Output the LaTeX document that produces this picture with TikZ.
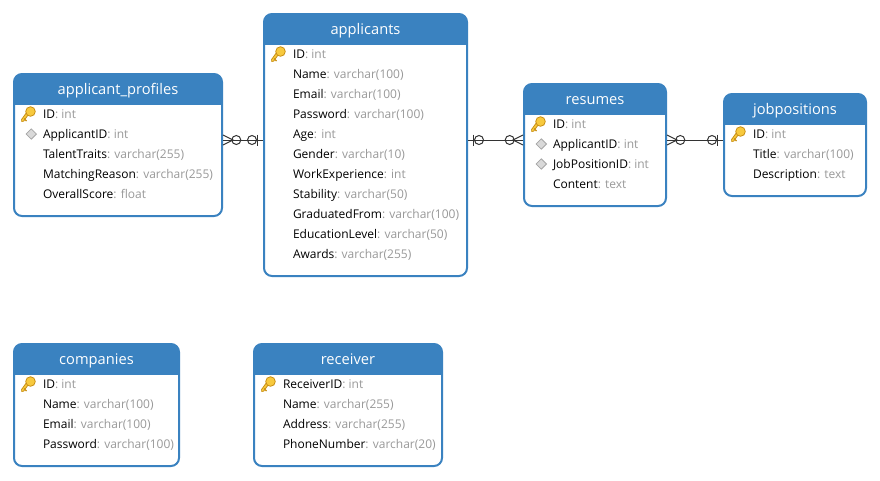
\documentclass[tikz,border=0pt]{standalone}
\usepackage{fontspec}
\setmainfont{Open Sans}
\usepackage{xcolor}
\usetikzlibrary{shapes,positioning,fit,calc}
\definecolor{headblue}{HTML}{3A82C0}
\definecolor{typegray}{HTML}{999999}
\definecolor{keygold}{HTML}{F7C93E}
\definecolor{keyedge}{HTML}{C98F14}
\newcommand{\fld}[2]{#1\textcolor{typegray}{: #2}}

\begin{document}
\begin{tikzpicture}[
    x=0.75pt, y=-0.75pt,
    tablebox/.style={rectangle, draw=headblue, line width=1.5pt, fill=white, rounded corners=6pt, inner sep=0pt,
        path picture={\fill[headblue, sharp corners] (path picture bounding box.north west) rectangle ($(path picture bounding box.north east)+(0,31)$);}},
    titletext/.style={text=white, text height=9pt, text depth=3pt, font=\fontsize{11}{13}\selectfont},
    rowtext/.style={anchor=north west, inner sep=0pt, outer sep=0pt, minimum height=15pt, text height=8pt, text depth=2pt, font=\fontsize{9}{10}\selectfont},
    nextrow/.style={below=0pt of #1.south west, anchor=north west},
    fkmark/.style={diamond, draw=black!35, fill=black!15, line width=0.6pt, inner sep=0pt, minimum size=8pt},
    link/.style={draw=black!80, line width=0.75pt},
    crowmark/.pic={
        \draw[link] (0,-5) -- (10,0) -- (0,5);
        \draw[link] (13.3,0) circle (4.5);
    },
    onemark/.pic={
        \draw[link] (5.5,-5.5) -- (5.5,5.5);
        \draw[link] (11,0) circle (4.5);
    },
    pkmark/.pic={
        \draw[keyedge, line width=2.6pt, line cap=round] (-3,2) -- (-8,9);
        \draw[keygold, line width=1.2pt, line cap=round] (-3,2) -- (-8,9);
        \draw[keyedge, line width=1pt] (-6.5,7) -- (-4,9.5);
        \filldraw[fill=keygold, draw=keyedge, line width=0.6pt] (0,0) circle (4.8);
    }
]
\useasboundingbox (0,0) rectangle (880,480);

% applicant_profiles
\node[tablebox, fit={(14,74) (222,216)}] (profiles) {};
\node[titletext] (profilestitle) at ($(profiles.north)+(0,17)$) {applicant\_profiles};
\node[rowtext] (pf1) at (43,104) {\fld{ID}{int}};
\node[rowtext, nextrow=pf1] (pf2) {\fld{ApplicantID}{int}};
\node[rowtext, nextrow=pf2] (pf3) {\fld{TalentTraits}{varchar(255)}};
\node[rowtext, nextrow=pf3] (pf4) {\fld{MatchingReason}{varchar(255)}};
\node[rowtext, nextrow=pf4] (pf5) {\fld{OverallScore}{float}};
\pic at ($(pf1.west)+(-12.5,-2.5)$) {pkmark};
\node[fkmark, left=4.5pt of pf2] (pf2fk) {};

% applicants
\node[tablebox, fit={(264,14) (467,276)}] (applicants) {};
\node[titletext] (applicantstitle) at ($(applicants.north)+(0,17)$) {applicants};
\node[rowtext] (ap1) at (293,44) {\fld{ID}{int}};
\node[rowtext, nextrow=ap1] (ap2) {\fld{Name}{varchar(100)}};
\node[rowtext, nextrow=ap2] (ap3) {\fld{Email}{varchar(100)}};
\node[rowtext, nextrow=ap3] (ap4) {\fld{Password}{varchar(100)}};
\node[rowtext, nextrow=ap4] (ap5) {\fld{Age}{int}};
\node[rowtext, nextrow=ap5] (ap6) {\fld{Gender}{varchar(10)}};
\node[rowtext, nextrow=ap6] (ap7) {\fld{WorkExperience}{int}};
\node[rowtext, nextrow=ap7] (ap8) {\fld{Stability}{varchar(50)}};
\node[rowtext, nextrow=ap8] (ap9) {\fld{GraduatedFrom}{varchar(100)}};
\node[rowtext, nextrow=ap9] (ap10) {\fld{EducationLevel}{varchar(50)}};
\node[rowtext, nextrow=ap10] (ap11) {\fld{Awards}{varchar(255)}};
\pic at ($(ap1.west)+(-12.5,-2.5)$) {pkmark};

% resumes
\node[tablebox, fit={(524,84) (666,206)}] (resumes) {};
\node[titletext] (resumestitle) at ($(resumes.north)+(0,17)$) {resumes};
\node[rowtext] (rs1) at (553,114) {\fld{ID}{int}};
\node[rowtext, nextrow=rs1] (rs2) {\fld{ApplicantID}{int}};
\node[rowtext, nextrow=rs2] (rs3) {\fld{JobPositionID}{int}};
\node[rowtext, nextrow=rs3] (rs4) {\fld{Content}{text}};
\pic at ($(rs1.west)+(-12.5,-2.5)$) {pkmark};
\node[fkmark, left=4.5pt of rs2] (rs2fk) {};
\node[fkmark, left=4.5pt of rs3] (rs3fk) {};

% jobpositions
\node[tablebox, fit={(724,94) (866,196)}] (jobpositions) {};
\node[titletext] (jobpositionstitle) at ($(jobpositions.north)+(0,17)$) {jobpositions};
\node[rowtext] (jb1) at (753,124) {\fld{ID}{int}};
\node[rowtext, nextrow=jb1] (jb2) {\fld{Title}{varchar(100)}};
\node[rowtext, nextrow=jb2] (jb3) {\fld{Description}{text}};
\pic at ($(jb1.west)+(-12.5,-2.5)$) {pkmark};

% companies
\node[tablebox, fit={(14,344) (179,466)}] (companies) {};
\node[titletext] (companiestitle) at ($(companies.north)+(0,17)$) {companies};
\node[rowtext] (cp1) at (43,374) {\fld{ID}{int}};
\node[rowtext, nextrow=cp1] (cp2) {\fld{Name}{varchar(100)}};
\node[rowtext, nextrow=cp2] (cp3) {\fld{Email}{varchar(100)}};
\node[rowtext, nextrow=cp3] (cp4) {\fld{Password}{varchar(100)}};
\pic at ($(cp1.west)+(-12.5,-2.5)$) {pkmark};

% receiver
\node[tablebox, fit={(254,344) (442,466)}] (receiver) {};
\node[titletext] (receivertitle) at ($(receiver.north)+(0,17)$) {receiver};
\node[rowtext] (rc1) at (283,374) {\fld{ReceiverID}{int}};
\node[rowtext, nextrow=rc1] (rc2) {\fld{Name}{varchar(255)}};
\node[rowtext, nextrow=rc2] (rc3) {\fld{Address}{varchar(255)}};
\node[rowtext, nextrow=rc3] (rc4) {\fld{PhoneNumber}{varchar(20)}};
\pic at ($(rc1.west)+(-12.5,-2.5)$) {pkmark};

% Links
\draw[link] (profiles.east |- 0,140) -- (applicants.west |- 0,140)
    pic[pos=0] {crowmark} pic[pos=1, xscale=-1] {onemark};
\draw[link] (applicants.east |- 0,140) -- (resumes.west |- 0,140)
    pic[pos=0] {onemark} pic[pos=1, xscale=-1] {crowmark};
\draw[link] (resumes.east |- 0,140) -- (jobpositions.west |- 0,140)
    pic[pos=0] {crowmark} pic[pos=1, xscale=-1] {onemark};

\end{tikzpicture}
\end{document}
